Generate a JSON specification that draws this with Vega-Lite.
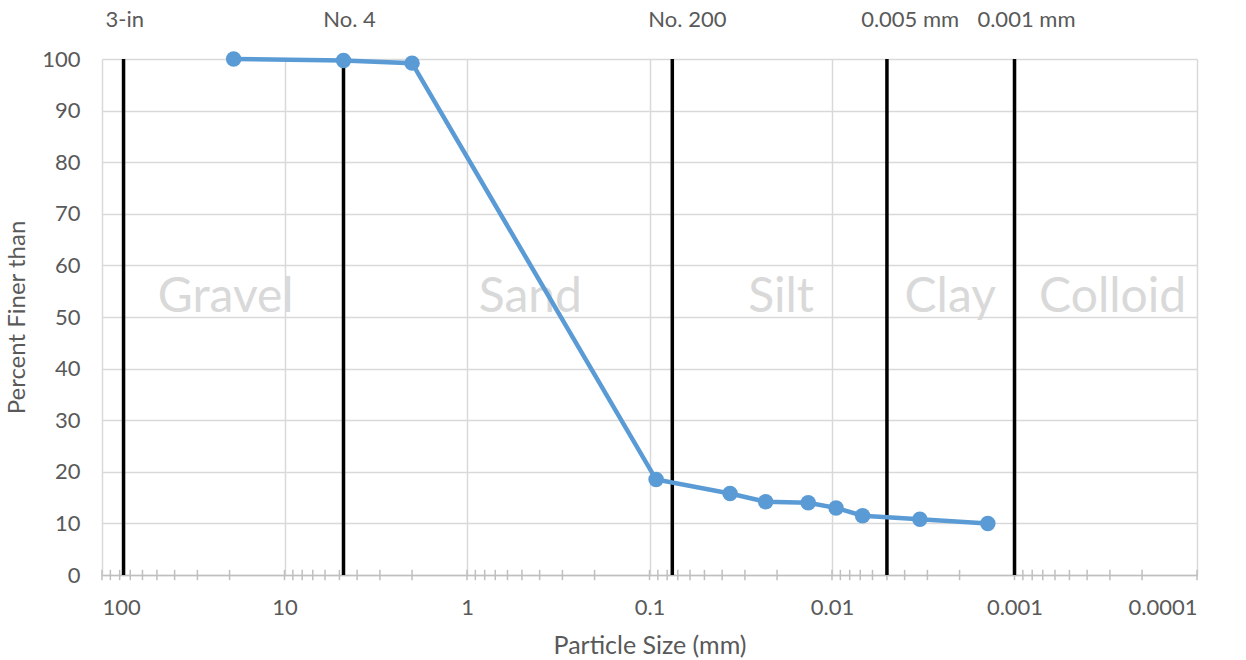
{
  "$schema": "https://vega.github.io/schema/vega-lite/v6.json",
  "width": 1095,
  "height": 516,
  "autosize": {"type": "none"},
  "padding": {"left": 102, "top": 59, "right": 49, "bottom": 85},
  "background": "white",
  "config": {
    "view": {"stroke": null},
    "font": "Lato",
    "axis": {"labelFont": "Lato", "titleFont": "Lato", "labelColor": "#595959", "titleColor": "#595959", "titleFontWeight": "normal"}
  },
  "datasets": {
    "grain": [
      {"size": 19.0, "finer": 100.0},
      {"size": 4.75, "finer": 99.7},
      {"size": 2.0, "finer": 99.2},
      {"size": 0.092, "finer": 18.5},
      {"size": 0.0362, "finer": 15.8},
      {"size": 0.0231, "finer": 14.2},
      {"size": 0.0135, "finer": 14.0},
      {"size": 0.0095, "finer": 13.0},
      {"size": 0.0068, "finer": 11.5},
      {"size": 0.0033, "finer": 10.8},
      {"size": 0.0014, "finer": 10.0}
    ],
    "bounds": [
      {"size": 76.2, "label": "3-in", "labelAt": 75},
      {"size": 4.75, "label": "No. 4", "labelAt": 4.4},
      {"size": 0.075, "label": "No. 200", "labelAt": 0.062},
      {"size": 0.005, "label": "0.005 mm", "labelAt": 0.00373},
      {"size": 0.001, "label": "0.001 mm", "labelAt": 0.00086}
    ],
    "zones": [
      {"at": 21, "zone": "Gravel"},
      {"at": 0.45, "zone": "Sand"},
      {"at": 0.019, "zone": "Silt"},
      {"at": 0.00225, "zone": "Clay"},
      {"at": 0.00029, "zone": "Colloid"}
    ],
    "minor": [
      {"v": 90}, {"v": 80}, {"v": 70}, {"v": 60}, {"v": 50}, {"v": 40}, {"v": 30}, {"v": 20},
      {"v": 9}, {"v": 8}, {"v": 7}, {"v": 6}, {"v": 5}, {"v": 4}, {"v": 3}, {"v": 2},
      {"v": 0.9}, {"v": 0.8}, {"v": 0.7}, {"v": 0.6}, {"v": 0.5}, {"v": 0.4}, {"v": 0.3}, {"v": 0.2},
      {"v": 0.09}, {"v": 0.08}, {"v": 0.07}, {"v": 0.06}, {"v": 0.05}, {"v": 0.04}, {"v": 0.03}, {"v": 0.02},
      {"v": 0.009}, {"v": 0.008}, {"v": 0.007}, {"v": 0.006}, {"v": 0.005}, {"v": 0.004}, {"v": 0.003}, {"v": 0.002},
      {"v": 0.0009}, {"v": 0.0008}, {"v": 0.0007}, {"v": 0.0006}, {"v": 0.0005}, {"v": 0.0004}, {"v": 0.0003}, {"v": 0.0002},
      {"v": 100}, {"v": 10}, {"v": 1}, {"v": 0.1}, {"v": 0.01}, {"v": 0.001}, {"v": 0.0001}
    ]
  },
  "layer": [
    {
      "data": {"name": "minor"},
      "mark": {"type": "rule", "color": "#bfbfbf", "strokeWidth": 1.5, "clip": false},
      "encoding": {
        "x": {"field": "v", "type": "quantitative",
          "scale": {"type": "log", "domain": [0.0001, 100], "reverse": true, "nice": false},
          "axis": {"values": [100, 10, 1, 0.1, 0.01, 0.001, 0.0001], "format": "~g", "title": "Particle Size (mm)",
            "labelFontSize": 22, "titleFontSize": 25, "labelPadding": 22, "titlePadding": 15, "ticks": false,
            "grid": true, "gridColor": "#d9d9d9", "gridWidth": 1.5, "domainColor": "#bfbfbf", "domainWidth": 1.5, "labelOverlap": false}},
        "y": {"datum": -1, "type": "quantitative",
          "scale": {"domain": [0, 100], "nice": false},
          "axis": {"values": [0, 10, 20, 30, 40, 50, 60, 70, 80, 90, 100], "title": "Percent Finer than",
            "labelFontSize": 22, "titleFontSize": 24, "labelPadding": 22, "titlePadding": 12, "ticks": false, "domain": false,
            "grid": true, "gridColor": "#d9d9d9", "gridWidth": 1.5}},
        "y2": {"datum": 1}
      }
    },
    {
      "data": {"name": "zones"},
      "mark": {"type": "text", "fontSize": 48, "color": "#d9d9d9", "align": "center", "baseline": "middle", "font": "Lato"},
      "encoding": {
        "x": {"field": "at", "type": "quantitative"},
        "y": {"datum": 53.6, "type": "quantitative"},
        "text": {"field": "zone"}
      }
    },
    {
      "data": {"name": "bounds"},
      "mark": {"type": "rule", "color": "black", "strokeWidth": 3.5},
      "encoding": {
        "x": {"field": "size", "type": "quantitative"},
        "y": {"datum": 0, "type": "quantitative"},
        "y2": {"datum": 100}
      }
    },
    {
      "data": {"name": "bounds"},
      "mark": {"type": "text", "fontSize": 22, "color": "#595959", "align": "center", "baseline": "middle", "clip": false},
      "encoding": {
        "x": {"field": "labelAt", "type": "quantitative"},
        "y": {"datum": 107.5, "type": "quantitative"},
        "text": {"field": "label"}
      }
    },
    {
      "data": {"name": "grain"},
      "mark": {"type": "line", "color": "#5b9bd5", "strokeWidth": 4.5, "point": {"filled": true, "size": 240, "color": "#5b9bd5", "opacity": 1}},
      "encoding": {
        "x": {"field": "size", "type": "quantitative"},
        "y": {"field": "finer", "type": "quantitative"}
      }
    }
  ]
}
